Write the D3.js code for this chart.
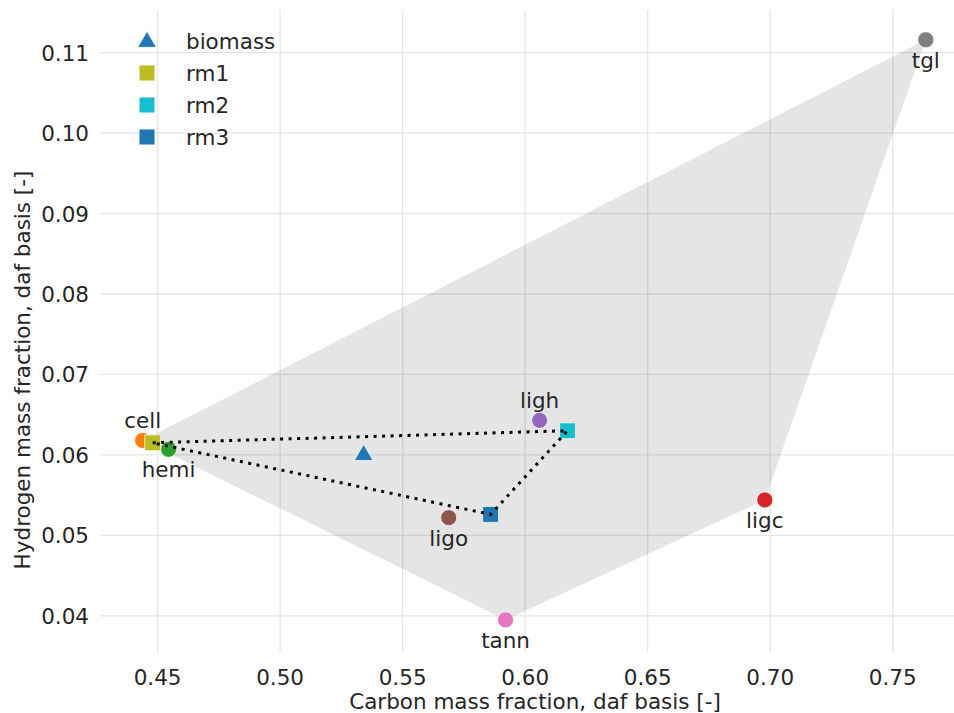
<!DOCTYPE html>
<html>
<head>
<meta charset="utf-8">
<script src="https://cdn.jsdelivr.net/npm/d3@7"></script>
<style>
  body { margin: 0; background: #fff; }
  svg text { font-family: "DejaVu Sans", sans-serif; fill: #262626; font-size: 21.5px; }
</style>
</head>
<body>
<script>
var width = 954, height = 713;

// reference components (circles, labelled)
var compNames = ["cell", "hemi", "ligc", "ligh", "ligo", "tann", "tgl"];
var compC = [0.4439, 0.4545, 0.6978, 0.6059, 0.5688, 0.5920, 0.7635];
var compH = [0.0618, 0.0607, 0.0544, 0.0643, 0.0522, 0.0395, 0.1116];
var compColors = ["#ff7f0e", "#2ca02c", "#d62728", "#9467bd", "#8c564b", "#e377c2", "#7f7f7f"];
var labelSide = [-1, 1, 1, -1, 1, 1, 1]; // -1 above, 1 below

// biomass and reference mixtures
var seriesNames = ["biomass", "rm1", "rm2", "rm3"];
var seriesC = [0.5341, 0.4480, 0.6173, 0.5859];
var seriesH = [0.0601, 0.0615, 0.0630, 0.0526];
var seriesColors = ["#1f77b4", "#bcbd22", "#17becf", "#1f77b4"];
var seriesShapes = ["triangle", "square", "square", "square"];

var xTicks = [0.45, 0.50, 0.55, 0.60, 0.65, 0.70, 0.75];
var yTicks = [0.04, 0.05, 0.06, 0.07, 0.08, 0.09, 0.10, 0.11];

var svg = d3.select("body")
            .append("svg")
            .attr("width", width)
            .attr("height", height);

var x = d3.scaleLinear().domain([0.4265, 0.775]).range([100, 954]);
var y = d3.scaleLinear().domain([0.0355, 0.1153]).range([652, 10]);

// grid
svg.append("g").selectAll("line")
    .data(xTicks).enter().append("line")
    .attr("x1", d => x(d)).attr("x2", d => x(d))
    .attr("y1", y.range()[1]).attr("y2", y.range()[0])
    .style("stroke", "#e5e5e5").style("stroke-width", 1.3);

svg.append("g").selectAll("line")
    .data(yTicks).enter().append("line")
    .attr("x1", x.range()[0]).attr("x2", x.range()[1])
    .attr("y1", d => y(d)).attr("y2", d => y(d))
    .style("stroke", "#e5e5e5").style("stroke-width", 1.3);

// tick labels
svg.append("g").selectAll("text")
    .data(xTicks).enter().append("text")
    .attr("x", d => x(d)).attr("y", 685)
    .attr("text-anchor", "middle")
    .text(d3.format(".2f"));

svg.append("g").selectAll("text")
    .data(yTicks).enter().append("text")
    .attr("x", 89).attr("y", d => y(d) + 8)
    .attr("text-anchor", "end")
    .text(d3.format(".2f"));

svg.append("text")
    .attr("x", 535).attr("y", 709)
    .attr("text-anchor", "middle")
    .text("Carbon mass fraction, daf basis [-]");

svg.append("text")
    .attr("transform", "translate(30,370) rotate(-90)")
    .attr("text-anchor", "middle")
    .text("Hydrogen mass fraction, daf basis [-]");

// convex hull of the reference components
var pts = compC.map((c, i) => [x(c), y(compH[i])]);
var hull = d3.polygonHull(pts);
svg.append("path")
    .attr("d", "M" + hull.join("L") + "Z")
    .style("fill", "#000")
    .style("fill-opacity", 0.1)
    .style("stroke", "none");

// component points and labels
svg.append("g").selectAll("circle")
    .data(compNames).enter().append("circle")
    .attr("cx", (d, i) => x(compC[i]))
    .attr("cy", (d, i) => y(compH[i]))
    .attr("r", 8)
    .style("fill", (d, i) => compColors[i])
    .style("stroke", "#fff")
    .style("stroke-width", 0.7);

svg.append("g").selectAll("text")
    .data(compNames).enter().append("text")
    .attr("x", (d, i) => x(compC[i]))
    .attr("y", (d, i) => y(compH[i]) + labelSide[i] * 20 + 8)
    .attr("text-anchor", "middle")
    .text(d => d);

var tri = d3.symbol().type(d3.symbolTriangle).size(150);
var sq = d3.symbol().type(d3.symbolSquare).size(250);
function shapePath(s) { return s == "triangle" ? tri() : sq(); }

svg.append("g").selectAll("path")
    .data(seriesNames).enter().append("path")
    .attr("d", (d, i) => shapePath(seriesShapes[i]))
    .attr("transform", (d, i) => "translate(" + x(seriesC[i]) + "," + (y(seriesH[i]) + (seriesShapes[i] == "triangle" ? 1 : 0)) + ")")
    .style("fill", (d, i) => seriesColors[i])
    .style("stroke", "#fff")
    .style("stroke-width", 0.7);

// dotted triangle between the reference mixtures
var rm = [1, 2, 3, 1].map(i => [x(seriesC[i]), y(seriesH[i])]);
svg.append("path")
    .attr("d", d3.line()(rm))
    .style("fill", "none")
    .style("stroke", "#000")
    .style("stroke-width", 3)
    .style("stroke-dasharray", "3,5.5");

// legend
var legend = svg.append("g").selectAll("g")
    .data(seriesNames).enter().append("g")
    .attr("transform", (d, i) => "translate(147," + (41 + i * 32) + ")");

legend.append("path")
    .attr("d", (d, i) => shapePath(seriesShapes[i]))
    .attr("transform", (d, i) => seriesShapes[i] == "triangle" ? "translate(0,1)" : null)
    .style("fill", (d, i) => seriesColors[i])
    .style("stroke", "#fff")
    .style("stroke-width", 0.7);

legend.append("text")
    .attr("x", 39).attr("y", 8)
    .text(d => d);
</script>
</body>
</html>
